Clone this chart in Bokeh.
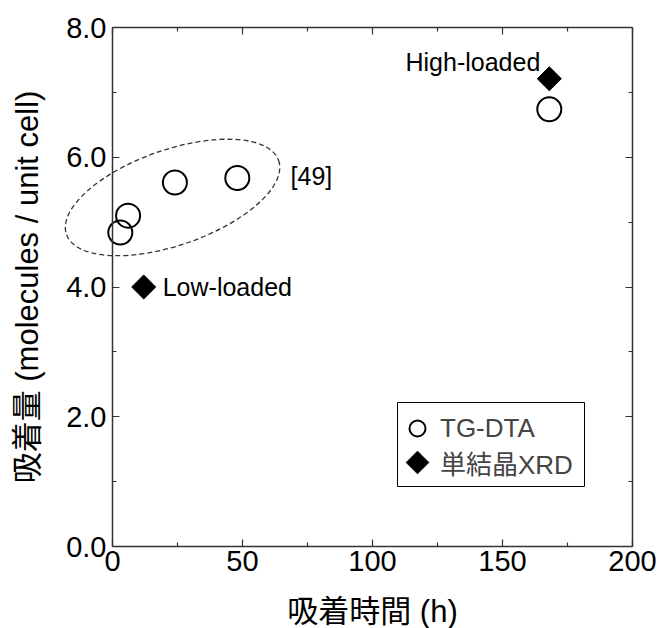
import math

from bokeh.embed import file_html
from bokeh.models import (BoxAnnotation, CustomJS, CustomLabelingPolicy,
                          FixedTicker, Label, Legend, LegendItem, LinearAxis,
                          PrintfTickFormatter, Range1d, Scatter)
from bokeh.plotting import figure
from bokeh.resources import INLINE

# Adsorption time (h) vs. adsorbed amount (molecules / unit cell)
tg_time = [3, 6, 24, 48, 168]
tg_amount = [4.84, 5.10, 5.61, 5.68, 6.74]

xrd_time = [12, 168]
xrd_amount = [4.00, 7.21]
xrd_names = ["Low-loaded", "High-loaded"]

x_ticks = [0, 50, 100, 150, 200]
x_minor = [25, 75, 125, 175]
y_ticks = [0, 2, 4, 6, 8]
y_minor = [1, 3, 5, 7]

x_title = "吸着時間 (h)"
y_title = "吸着量 (molecules / unit cell)"

# Dashed ellipse grouping the literature points [49]
group_center_x = 23.1
group_center_y = 5.38
group_width = 86.4      # x-axis units
group_height = 1.47     # y-axis units
group_angle = 0.335     # radians
group_note = "[49]"
group_note_x = 68.5
group_note_y = 5.71

LATIN = "Liberation Sans"
MIXED = "Liberation Sans, Noto Sans CJK JP"
AXIS_COLOR = "#333333"

# The drawing frame covers the whole canvas so the dashed outline can cross
# the y axis; the four axes are pinned to the edges of the 0..200 x 0..8 box.
W, H = 659, 628
PAD_L, PAD_R, PAD_T, PAD_B = 112, 27, 27, 82
X0, X1 = x_ticks[0], x_ticks[-1]
Y0, Y1 = y_ticks[0], y_ticks[-1]
px_x = (W - PAD_L - PAD_R) / (X1 - X0)
px_y = (H - PAD_T - PAD_B) / (Y1 - Y0)

p = figure(width=W, height=H, title=None,
           x_range=Range1d(X0 - PAD_L / px_x, X1 + PAD_R / px_x),
           y_range=Range1d(Y0 - PAD_B / px_y, Y1 + PAD_T / px_y),
           output_backend="svg", toolbar_location=None,
           min_border=0, x_axis_label=x_title, y_axis_label=y_title)
p.xgrid.visible = False
p.ygrid.visible = False
p.outline_line_color = None
p.background_fill_color = "white"
p.border_fill_color = "white"

xt = FixedTicker(ticks=x_ticks, minor_ticks=x_minor)
yt = FixedTicker(ticks=y_ticks, minor_ticks=y_minor)

# Mirror axes on the top and right carry ticks only
no_labels = CustomLabelingPolicy(code="""
for (const i of indices)
  indices.unset(i)
""")


def style_axis(ax, show_labels):
    ax.axis_line_color = AXIS_COLOR
    ax.axis_line_width = 1.5
    ax.major_tick_line_color = AXIS_COLOR
    ax.minor_tick_line_color = AXIS_COLOR
    ax.major_tick_line_width = 1.2
    ax.minor_tick_line_width = 1.2
    ax.major_tick_in = 7
    ax.major_tick_out = 0
    ax.minor_tick_in = 4
    ax.minor_tick_out = 0
    if show_labels:
        ax.major_label_text_font = LATIN
        ax.major_label_text_font_size = "29px"
        ax.major_label_text_color = "black"
        ax.axis_label_text_font = MIXED
        ax.axis_label_text_font_size = "31px"
        ax.axis_label_text_font_style = "normal"
        ax.axis_label_text_color = "black"
    else:
        ax.major_label_policy = no_labels
        ax.major_label_standoff = 0


xaxis = p.xaxis[0]
yaxis = p.yaxis[0]
xaxis.ticker = xt
xaxis.bounds = (X0, X1)
xaxis.fixed_location = Y0
yaxis.ticker = yt
yaxis.bounds = (Y0, Y1)
yaxis.fixed_location = X0
yaxis.formatter = PrintfTickFormatter(format="%.1f")
style_axis(xaxis, True)
style_axis(yaxis, True)
xaxis.major_label_standoff = 4
xaxis.axis_label_standoff = 20
yaxis.major_label_standoff = 6
yaxis.axis_label_standoff = 18

top_axis = LinearAxis(ticker=xt, bounds=(X0, X1), fixed_location=Y1)
right_axis = LinearAxis(ticker=yt, bounds=(Y0, Y1), fixed_location=X1)
style_axis(top_axis, False)
style_axis(right_axis, False)
p.add_layout(top_axis, "above")
p.add_layout(right_axis, "right")

# Literature group outline
p.ellipse(x=[group_center_x], y=[group_center_y], width=[group_width],
          height=[group_height], angle=[group_angle],
          fill_color=None, line_color="#333333", line_width=1.3,
          line_dash="5 3")
p.add_layout(Label(x=group_note_x, y=group_note_y, text=group_note,
                   text_font=LATIN, text_font_size="25px",
                   text_baseline="middle", text_color="black"))

# Data series
r_tg = p.scatter(tg_time, tg_amount, marker="circle", size=24,
                 fill_color=None, line_color="black", line_width=2)

# Filled diamond: a square standing on its corner (half-diagonal = r*sqrt(2))
if "defs" in Scatter.properties():
    diamond_def = CustomJS(code="""
export default (args, obj, {ctx, i, r, visuals}) => {
  const d = r * Math.SQRT2
  ctx.moveTo(0, -d)
  ctx.lineTo(d, 0)
  ctx.lineTo(0, d)
  ctx.lineTo(-d, 0)
  ctx.closePath()
  visuals.fill.apply(ctx, i)
  visuals.line.apply(ctx, i)
}
""")
    diamond_kw = dict(marker="@diamond", defs={"@diamond": diamond_def})
else:
    diamond_kw = dict(marker="square", angle=math.pi / 4)
r_xrd = p.scatter(xrd_time, xrd_amount, size=17, fill_color="black",
                  line_color="black", line_width=1, **diamond_kw)

# Loading labels next to the XRD points
offsets = {"Low-loaded": (19, 0, "left"), "High-loaded": (-9, 17, "right")}
for xv, yv, name in zip(xrd_time, xrd_amount, xrd_names):
    dx, dy, align = offsets[name]
    p.add_layout(Label(x=xv, y=yv, text=name, x_offset=dx, y_offset=dy,
                       text_align=align, text_baseline="middle",
                       text_font=LATIN, text_font_size="25px",
                       text_color="black"))

# Legend: a framed box holding one row per series (screen px from the
# lower-left corner of the canvas)
LEG_LEFT, LEG_BOTTOM, LEG_W, LEG_H = 397, 142, 187, 84
p.add_layout(BoxAnnotation(left=LEG_LEFT, right=LEG_LEFT + LEG_W,
                           bottom=LEG_BOTTOM, top=LEG_BOTTOM + LEG_H,
                           left_units="screen", right_units="screen",
                           bottom_units="screen", top_units="screen",
                           fill_color="white", fill_alpha=1,
                           line_color="black", line_alpha=1, line_width=1,
                           level="annotation"))
rows = [("TG-DTA", r_tg, LEG_BOTTOM + 38), ("単結晶XRD", r_xrd, LEG_BOTTOM + 4)]
for label, rend, bottom in rows:
    p.add_layout(Legend(items=[LegendItem(label=label, renderers=[rend])],
                        location=(LEG_LEFT, bottom), padding=0, margin=0,
                        glyph_width=40, glyph_height=40, label_standoff=3,
                        label_text_font=MIXED, label_text_font_size="26px",
                        label_text_baseline="middle",
                        border_line_color=None, background_fill_alpha=0))

open("out.html", "w").write(file_html(p, INLINE))
